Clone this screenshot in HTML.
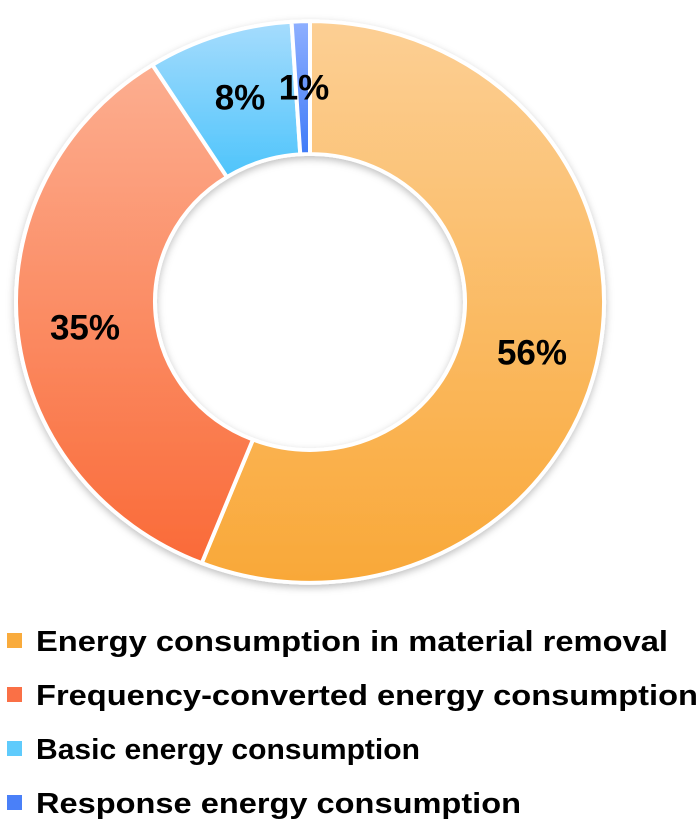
<!DOCTYPE html>
<html><head><meta charset="utf-8"><style>
body{margin:0;background:#fff;width:700px;height:828px;overflow:hidden;font-family:"Liberation Sans",sans-serif}
</style></head><body>
<svg id="chart" width="700" height="828" xmlns="http://www.w3.org/2000/svg">
<defs>
<linearGradient id="g0" x1="0" y1="0" x2="0" y2="1"><stop offset="0" stop-color="#fccf94"/><stop offset="1" stop-color="#f9a838"/></linearGradient>
<linearGradient id="g1" x1="0" y1="0" x2="0" y2="1"><stop offset="0" stop-color="#fcae90"/><stop offset="1" stop-color="#fa6a38"/></linearGradient>
<linearGradient id="g2" x1="0" y1="0" x2="0" y2="1"><stop offset="0" stop-color="#a6dcfd"/><stop offset="1" stop-color="#4ec4fb"/></linearGradient>
<linearGradient id="g3" x1="0" y1="0" x2="0" y2="1"><stop offset="0" stop-color="#8fb0ff"/><stop offset="1" stop-color="#3f7bf8"/></linearGradient>
<filter id="sh" x="-10%" y="-10%" width="120%" height="120%"><feDropShadow dx="0" dy="3" stdDeviation="4" flood-color="#000" flood-opacity="0.25"/></filter>
</defs>
<g id="slices" filter="url(#sh)" transform="translate(0,302) scale(1,0.955) translate(0,-302)"></g>
<g id="labels"></g>
<g id="legend"></g>
</svg>
<script>
const categories=["Energy consumption in material removal","Frequency-converted energy consumption","Basic energy consumption","Response energy consumption"];
const values=[56,35,8,1];
const labels=["56%","35%","8%","1%"];
const NS="http://www.w3.org/2000/svg";
const cx=310,cy=302,R=294,r=155;
const fills=["url(#g0)","url(#g1)","url(#g2)","url(#g3)"];
const sw=["#f9ab3c","#fa7046","#5fcbfc","#4a80f8"];
const labelPos=[[532,355],[85,330],[240,100],[304,90]];
const total=values.reduce((a,b)=>a+b,0);
function pt(a,rad){return [cx+rad*Math.sin(a),cy-rad*Math.cos(a)];}
let acc=0;
const gs=document.getElementById('slices'),gl=document.getElementById('labels'),gg=document.getElementById('legend');
values.forEach((v,i)=>{
  const a0=acc/total*2*Math.PI;acc+=v;const a1=acc/total*2*Math.PI;
  const big=(a1-a0)>Math.PI?1:0;
  const [x0,y0]=pt(a0,R),[x1,y1]=pt(a1,R),[x2,y2]=pt(a1,r),[x3,y3]=pt(a0,r);
  const p=document.createElementNS(NS,'path');
  p.setAttribute('d',`M${x0},${y0}A${R},${R} 0 ${big} 1 ${x1},${y1}L${x2},${y2}A${r},${r} 0 ${big} 0 ${x3},${y3}Z`);
  p.setAttribute('fill',fills[i]);p.setAttribute('stroke','#fff');p.setAttribute('stroke-width','4');
  
  
  gs.appendChild(p);
  const t=document.createElementNS(NS,'text');
  t.setAttribute('x',labelPos[i][0]);t.setAttribute('y',labelPos[i][1]);
  t.setAttribute('text-anchor','middle');t.setAttribute('dominant-baseline','middle');
  t.setAttribute('font-size','35');t.setAttribute('font-weight','bold');t.setAttribute('fill','#000');
  t.textContent=labels[i];
  
  
  gl.appendChild(t);
  const y=640+i*54;
  const s=document.createElementNS(NS,'rect');
  s.setAttribute('x',7);s.setAttribute('y',y-7);s.setAttribute('width',15);s.setAttribute('height',15);s.setAttribute('fill',sw[i]);
  
  
  gg.appendChild(s);
  const lt=document.createElementNS(NS,'text');
  lt.setAttribute('x',36);lt.setAttribute('y',y+11);lt.setAttribute('font-size','29');lt.setAttribute('font-weight','bold');
  const widths=[632,662,384,485];
  lt.setAttribute('textLength',widths[i]);lt.setAttribute('lengthAdjust','spacingAndGlyphs');
  lt.textContent=categories[i];
  
  
  gg.appendChild(lt);
});
</script>
</body></html>
